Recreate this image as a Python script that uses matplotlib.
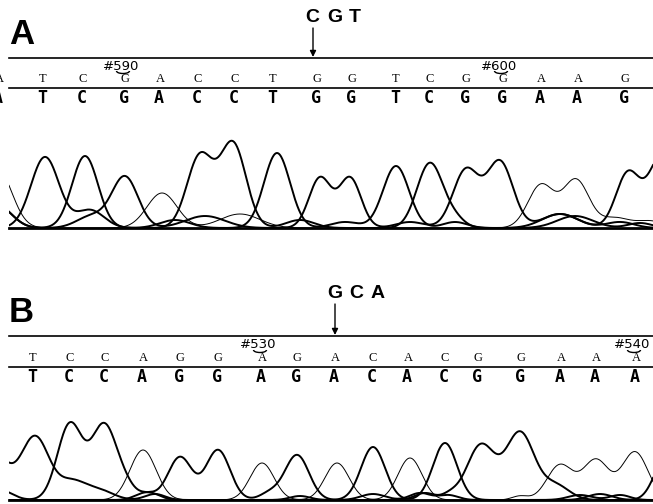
import matplotlib
matplotlib.use("Agg")
import numpy as np
import matplotlib.pyplot as plt
from matplotlib import transforms
from matplotlib.patches import Arc

# ---------------- data ----------------
panel_labels = ["A", "B"]
codon_labels = ["C G T", "G C A"]

# base calls (same read in both rows) and their positions along the trace
seq_A = list("ATCGACCTGGTCGGAAG")
pos_A = [-1, 43, 83, 125, 160, 198, 235, 273, 317, 352, 396, 430, 466, 503, 541, 578, 625]
seq_B = list("TCCAGGAGACACGGAAA")
pos_B = [33, 70, 105, 143, 180, 218, 262, 297, 335, 373, 408, 445, 478, 521, 561, 596, 636]

# numbered positions
num_A = ["#590", "#600"]
num_A_idx = [3, 13]
num_B = ["#530", "#540"]
num_B_idx = [6, 16]

# chromatogram peaks per channel: (centre, height, width)
peaks_A_A = [(-2, 58, 14), (162, 35, 15), (240, 14, 20), (541, 43, 13), (576, 48, 13),
             (615, 10, 14), (650, 7, 14)]
peaks_A_C = [(-2, 22, 14), (85, 72, 13), (200, 72, 13), (233, 84, 13), (300, 8, 14),
             (430, 65, 13), (455, 8, 10), (560, 14, 18), (620, 6, 14)]
peaks_A_G = [(-2, 22, 14), (92, 12, 15), (125, 51, 13), (205, 12, 20), (320, 50, 11),
             (350, 50, 11), (410, 6, 14), (466, 58, 13), (500, 66, 13), (560, 14, 18),
             (628, 55, 12), (662, 72, 13)]
peaks_A_T = [(45, 71, 14), (90, 18, 14), (175, 8, 15), (277, 75, 13), (345, 6, 14),
             (396, 62, 13), (455, 6, 12), (575, 12, 18), (640, 5, 12)]

peaks_B_A = [(143, 50, 13), (262, 37, 12), (337, 37, 12), (410, 42, 12), (520, 4, 8),
             (560, 35, 13), (596, 40, 13), (635, 48, 13)]
peaks_B_C = [(0, 10, 12), (70, 76, 12.5), (104, 74, 12.5), (125, 12, 10), (150, 7, 10),
             (300, 4, 10), (373, 53, 12), (445, 57, 12), (580, 5, 12), (620, 5, 10)]
peaks_B_G = [(145, 7, 10), (180, 43, 12), (218, 50, 12), (270, 7, 10), (297, 45, 12),
             (425, 7, 10), (450, 5, 8), (481, 55, 14), (520, 67, 14), (555, 15, 14),
             (665, 40, 11)]
peaks_B_T = [(-8, 50, 15), (35, 63, 14), (72, 18, 14), (100, 9, 14), (155, 6, 10),
             (373, 6, 12), (420, 7, 10), (448, 5, 10), (600, 6, 12)]

channels_A = {"A": peaks_A_A, "C": peaks_A_C, "G": peaks_A_G, "T": peaks_A_T}
channels_B = {"A": peaks_B_A, "C": peaks_B_C, "G": peaks_B_G, "T": peaks_B_T}

# ---------------- figure ----------------
W, H = 653, 504
fig = plt.figure(figsize=(W / 100, H / 100), dpi=100)
ax0 = fig.add_axes([0, 0, 1, 1])
ax0.set_xlim(0, W)
ax0.set_ylim(H, 0)
ax0.axis("off")

line_w = {"A": 0.7, "C": 1.4, "G": 1.4, "T": 1.4}


def trace(peaks, x):
    y = np.zeros_like(x)
    for c, h, s in peaks:
        y += h * np.exp(-0.5 * ((x - c) / s) ** 2)
    return y


def panel(label, codon, seq, pos, nums, num_idx, channels, y_label, codon_x, y_codon,
          arrow_x, y_top, y_small, y_mid, y_bold, y_num, y_base):
    # panel letter and codon
    ax0.text(9, y_label, label, fontsize=25, fontweight="bold", family="Liberation Sans",
             ha="left", va="center")
    for k, ch in enumerate(codon.split()):
        ax0.text(codon_x + 22 * k, y_codon, ch, fontsize=14, fontweight="bold",
                 family="Liberation Sans", ha="left", va="center")
    ax0.annotate("", xy=(arrow_x, y_top - 1), xytext=(arrow_x, y_codon + 10),
                 arrowprops=dict(arrowstyle="-|>", lw=1.0, color="k",
                                 mutation_scale=9, shrinkA=0, shrinkB=0))
    ax0.plot([9, W], [y_top, y_top], color="k", lw=1.2)
    ax0.plot([9, W], [y_mid, y_mid], color="k", lw=1.2)

    # trace axes
    ax = fig.add_axes([9 / W, (H - y_base) / H, (W - 9) / W, 100 / H])
    ax.set_xlim(9, W)
    ax.set_ylim(0, 100)
    ax.axis("off")
    x = np.linspace(9, W, 1500)
    for ch in ["A", "C", "G", "T"]:
        ax.plot(x, trace(channels[ch], x), color="k", lw=line_w[ch], solid_joinstyle="round")
    ax.plot([9, W], [0, 0], color="k", lw=2.0, clip_on=False)

    # base calls: positions from the trace's x-scale, rows in figure pixels
    tr = transforms.blended_transform_factory(ax.transData, ax0.transData)
    for b, p in zip(seq, pos):
        ax.text(p, y_small, b, transform=tr, fontsize=9, family="Liberation Serif",
                ha="center", va="center", clip_on=False)
        ax.text(p - 1, y_bold, b, transform=tr, fontsize=12, fontweight="bold",
                family="DejaVu Sans Mono", ha="center", va="center", clip_on=False)
    for t, i in zip(nums, num_idx):
        ax.text(pos[i] - 4, y_num, t, transform=tr, fontsize=9.5, family="DejaVu Sans",
                ha="center", va="center", clip_on=False)
        ax.add_patch(Arc((pos[i] - 2, y_num + 5), 13, 5, theta1=0, theta2=180,
                         transform=tr, color="k", lw=1.0, clip_on=False))


panel(panel_labels[0], codon_labels[0], seq_A, pos_A, num_A, num_A_idx, channels_A,
      y_label=35, codon_x=305, y_codon=18, arrow_x=313, y_top=58, y_small=79,
      y_mid=88, y_bold=98, y_num=66, y_base=228)
panel(panel_labels[1], codon_labels[1], seq_B, pos_B, num_B, num_B_idx, channels_B,
      y_label=313, codon_x=327, y_codon=294, arrow_x=335, y_top=336, y_small=358,
      y_mid=367, y_bold=377, y_num=345, y_base=500)

fig.savefig("out.png", dpi=100)
